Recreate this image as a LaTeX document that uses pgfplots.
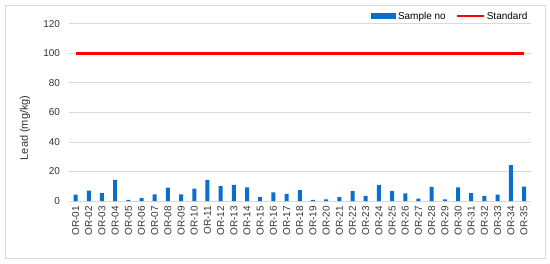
\documentclass[border=0pt]{standalone}
\usepackage{fontspec}
\setmainfont{Liberation Sans}
\usepackage{pgfplots}
\usepackage{pgfplotstable}
\pgfplotsset{compat=1.18}
\definecolor{barblue}{HTML}{0A6ECD}
\definecolor{gridgray}{HTML}{D9D9D9}
\pgfplotstableread{
x lead std
0 4.3 100
1 7.0 100
2 5.4 100
3 14.3 100
4 0.7 100
5 2.0 100
6 4.5 100
7 9.0 100
8 4.5 100
9 8.4 100
10 14.3 100
11 10.0 100
12 10.9 100
13 9.3 100
14 2.7 100
15 5.9 100
16 4.8 100
17 7.3 100
18 0.7 100
19 1.1 100
20 2.7 100
21 6.6 100
22 3.4 100
23 10.9 100
24 6.6 100
25 5.2 100
26 1.6 100
27 9.5 100
28 1.1 100
29 9.3 100
30 5.4 100
31 3.4 100
32 4.3 100
33 24.3 100
34 9.7 100
}\datatable
\begin{document}
\begin{tikzpicture}
\path (-69pt,-62pt) rectangle (481pt,201pt);
\draw[gridgray] (-64pt,-57pt) rectangle (476pt,196pt);
\begin{axis}[
  at={(0,0)}, anchor=south west,
  scale only axis, width=461.6pt, height=177.3pt,
  xmin=-0.5, xmax=34.5, ymin=0, ymax=120,
  ytick={0,20,...,120},
  xtick={0,...,34},
  xticklabels={OR-01,OR-02,OR-03,OR-04,OR-05,OR-06,OR-07,OR-08,OR-09,OR-10,OR-11,OR-12,OR-13,OR-14,OR-15,OR-16,OR-17,OR-18,OR-19,OR-20,OR-21,OR-22,OR-23,OR-24,OR-25,OR-26,OR-27,OR-28,OR-29,OR-30,OR-31,OR-32,OR-33,OR-34,OR-35},
  x tick label style={rotate=90, anchor=east, font=\fontsize{10}{11}\selectfont, color=black!80, xshift=-1.5pt},
  y tick label style={font=\fontsize{10}{12}\selectfont, color=black!80},
  /pgf/number format/assume math mode=true,
  yticklabel style={xshift=-5.5pt},
  axis line style={draw=none},
  axis x line*=bottom,
  x axis line style={draw=gridgray},
  tick style={draw=none},
  ymajorgrids, grid style={gridgray, line width=0.8pt},
  ylabel={Lead (mg/kg)},
  ylabel style={at={(axis description cs:-0.0953,0.413)}, anchor=center, font=\fontsize{11}{13}\selectfont, color=black!80},
  legend columns=2,
  legend style={draw=none, fill=none, at={(axis description cs:1,1)}, anchor=south east, font=\fontsize{10}{12}\selectfont, /tikz/every even column/.append style={column sep=8pt}, inner sep=1pt},
  clip=false,
]
\addplot[ybar, bar width=4pt, fill=barblue, draw=none,
  legend image code/.code={\fill[barblue] (0pt,-3pt) rectangle (25pt,3pt);}] table[x=x, y=lead] {\datatable};
\addlegendentry{Sample no}
\addplot[red, line width=2.5pt, mark=none,
  legend image code/.code={\draw[red, line width=2pt] (0pt,0pt) -- (27pt,0pt);}] table[x=x, y=std] {\datatable};
\addlegendentry{Standard}
\end{axis}
\end{tikzpicture}
\end{document}
